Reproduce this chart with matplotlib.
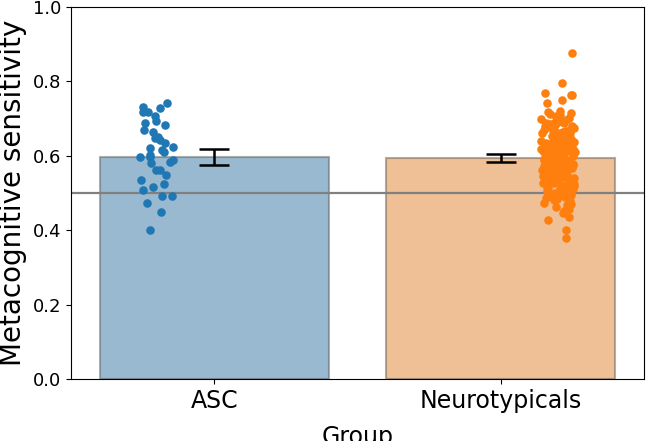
import numpy as np
import matplotlib
matplotlib.use("Agg")
import matplotlib.pyplot as plt

groups = ["ASC", "Neurotypicals"]
bar_means = [0.597, 0.595]
err_low = [0.575, 0.583]
err_high = [0.618, 0.606]
chance = 0.5

asc_vals = [0.730, 0.719, 0.741, 0.728, 0.719, 0.707, 0.694, 0.687, 0.683,
            0.669, 0.665, 0.651, 0.647, 0.642, 0.634, 0.624, 0.620, 0.616,
            0.611, 0.602, 0.598, 0.589, 0.598, 0.580, 0.584, 0.562, 0.562,
            0.548, 0.535, 0.524, 0.517, 0.508, 0.492, 0.492, 0.472, 0.449,
            0.401]

nt_vals = [0.379, 0.401, 0.427, 0.436, 0.447,
           0.452, 0.458, 0.463, 0.468,
           0.471, 0.474, 0.478, 0.481, 0.484, 0.486, 0.489,
           0.491, 0.494, 0.496, 0.497, 0.499, 0.502, 0.503, 0.506, 0.507, 0.509,
           0.511, 0.512, 0.514, 0.516, 0.517, 0.519, 0.520, 0.522, 0.524, 0.525,
           0.526, 0.527, 0.528, 0.529,
           0.531, 0.533, 0.534, 0.535, 0.537, 0.538, 0.539, 0.540, 0.542, 0.543,
           0.544, 0.545, 0.546, 0.547, 0.548, 0.549, 0.549,
           0.551, 0.552, 0.553, 0.554, 0.555, 0.556, 0.557, 0.558, 0.559, 0.560,
           0.561, 0.562, 0.563, 0.564, 0.565, 0.566, 0.567, 0.568, 0.569, 0.569,
           0.571, 0.572, 0.573, 0.574, 0.575, 0.576, 0.577, 0.578, 0.579, 0.580,
           0.581, 0.582, 0.583, 0.584, 0.585, 0.586, 0.586, 0.587, 0.588, 0.589,
           0.589, 0.589,
           0.591, 0.592, 0.593, 0.594, 0.595, 0.596, 0.597, 0.598, 0.599, 0.600,
           0.601, 0.602, 0.603, 0.604, 0.605, 0.606, 0.606, 0.607, 0.608, 0.609,
           0.609, 0.609,
           0.611, 0.612, 0.613, 0.614, 0.615, 0.616, 0.617, 0.618, 0.619, 0.620,
           0.621, 0.622, 0.623, 0.624, 0.625, 0.626, 0.627, 0.628, 0.629, 0.629,
           0.631, 0.632, 0.633, 0.634, 0.635, 0.636, 0.637, 0.638, 0.639, 0.640,
           0.641, 0.642, 0.644, 0.645, 0.646, 0.647, 0.648, 0.649,
           0.651, 0.652, 0.654, 0.655, 0.657, 0.658, 0.660, 0.661, 0.662, 0.664,
           0.665, 0.666, 0.667, 0.668, 0.669,
           0.671, 0.673, 0.675, 0.677, 0.679, 0.681, 0.683, 0.685, 0.687, 0.689,
           0.688,
           0.691, 0.694, 0.696, 0.698, 0.701, 0.703, 0.706, 0.709,
           0.712, 0.715, 0.718, 0.721,
           0.742, 0.750, 0.763, 0.763, 0.768, 0.795, 0.876]

bar_colors = ["#3274a1", "#e1812c"]
point_colors = ["#1f77b4", "#ff7f0e"]

fig = plt.figure(figsize=(6.46, 4.41), dpi=100)
ax = fig.add_axes([71 / 646, 62 / 441, 573 / 646, 372 / 441])

x = np.arange(len(groups))
ax.bar(x, bar_means, width=0.8, color=bar_colors, alpha=0.5,
       edgecolor="#606060", linewidth=1.5, zorder=1)
ax.axhline(chance, color="gray", linewidth=1.6, zorder=2)

rng = np.random.default_rng(3)
offsets = [-0.2, 0.2]
for i, vals in enumerate([asc_vals, nt_vals]):
    jit = rng.uniform(-0.06, 0.06, len(vals))
    ax.scatter(x[i] + offsets[i] + jit, vals, s=38, color=point_colors[i],
               linewidth=0, zorder=3)

means = np.array(bar_means)
yerr = [means - np.array(err_low), np.array(err_high) - means]
ax.errorbar(x, means, yerr=yerr, fmt="none", ecolor="black",
            elinewidth=1.8, capsize=11, capthick=1.8, zorder=4)

ax.set_xlim(-0.5, 1.5)
ax.set_ylim(0, 1.0)
ax.set_xticks(x)
ax.set_xticklabels(groups, fontsize=17)
ax.tick_params(axis="y", labelsize=13)
ax.set_xlabel("Group", fontsize=17, labelpad=9)
ax.set_ylabel("Metacognitive sensitivity", fontsize=20)

fig.savefig("out.png", dpi=100)
